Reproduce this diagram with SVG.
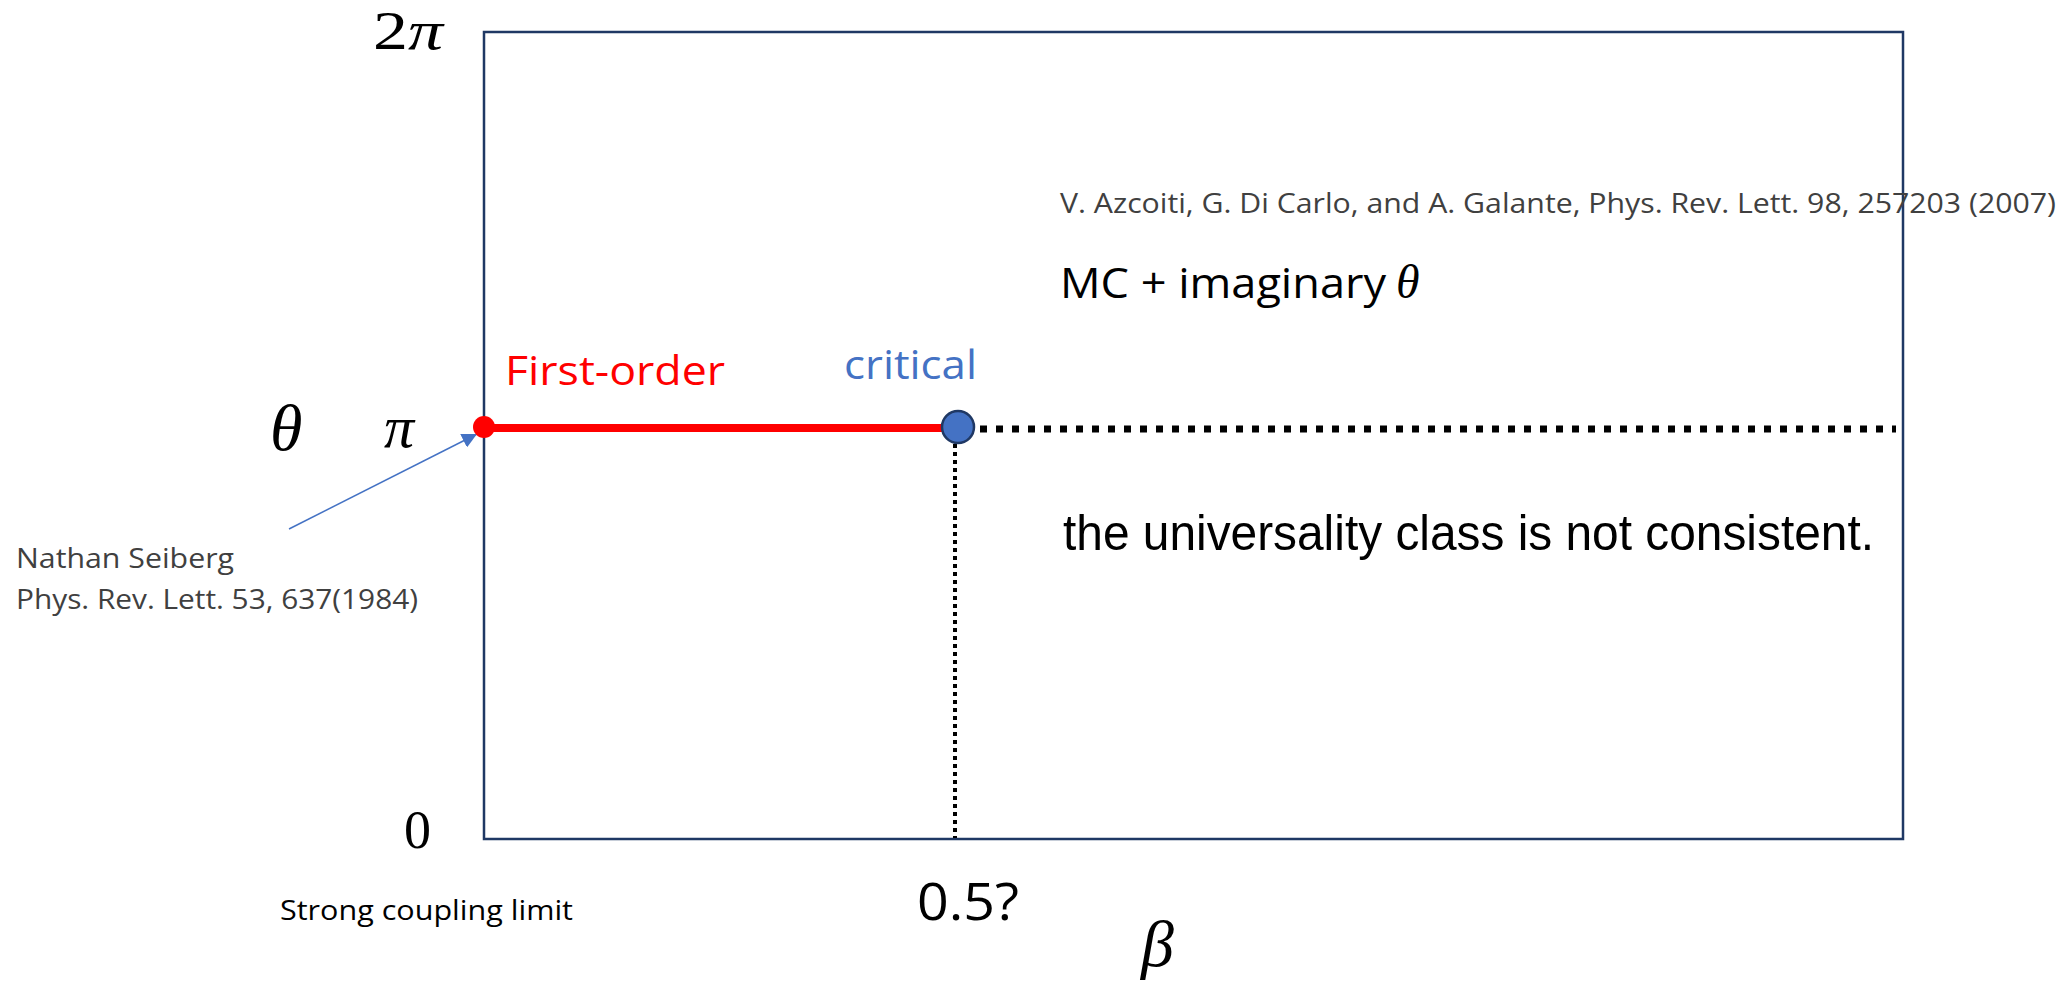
<svg xmlns="http://www.w3.org/2000/svg" width="2062" height="985" viewBox="0 0 2062 985">
<style>
.sans{font-family:"Open Sans","Noto Sans","Liberation Sans",sans-serif;}
.math{font-family:"Liberation Serif","DejaVu Serif",serif;font-style:italic;fill:#000;}
.mathup{font-family:"Liberation Serif","DejaVu Serif",serif;fill:#000;}
.cite{font-family:"Open Sans","Noto Sans","Liberation Sans",sans-serif;fill:#404040;}
</style>
<defs>
<marker id="ah" viewBox="0 0 10 10" refX="10" refY="5" markerWidth="10" markerHeight="10" markerUnits="strokeWidth" orient="auto">
<path d="M0,0 L10,5 L0,10 z" fill="#4472C4"/>
</marker>
</defs>
<rect width="2062" height="985" fill="#fff"/>
<g id="frame">
<rect x="484" y="32" width="1419" height="807" fill="none" stroke="#1F3864" stroke-width="2.5"/>
</g>
<g id="axis-labels">
<text class="mathup" x="373" y="49" font-size="54" textLength="70" lengthAdjust="spacingAndGlyphs">2<tspan class="math">π</tspan></text>
<text class="math" x="270" y="450" font-size="66">θ</text>
<text class="math" x="384" y="447" font-size="60">π</text>
<text class="mathup" x="404" y="848" font-size="54">0</text>
<text class="sans" x="917" y="920" font-size="52" textLength="102" lengthAdjust="spacingAndGlyphs">0.5?</text>
<text class="math" x="1141" y="966" font-size="66">β</text>
<text class="sans" x="280" y="920" font-size="28" textLength="293" lengthAdjust="spacingAndGlyphs">Strong coupling limit</text>
</g>
<g id="connectors">
<line x1="484" y1="428" x2="946" y2="428" stroke="#FF0000" stroke-width="8"/>
<line x1="980" y1="429" x2="1896" y2="429" stroke="#000" stroke-width="7" stroke-dasharray="7 9"/>
<line x1="955" y1="444" x2="955" y2="838" stroke="#000" stroke-width="4" stroke-dasharray="4 4"/>
<line x1="289" y1="529" x2="477" y2="434" stroke="#4472C4" stroke-width="1.5" marker-end="url(#ah)"/>
</g>
<g id="node-first-order">
<circle cx="484" cy="427" r="11" fill="#FF0000"/>
<text class="sans" x="505" y="385" font-size="40" fill="#FF0000" textLength="220" lengthAdjust="spacingAndGlyphs">First-order</text>
</g>
<g id="node-critical">
<circle cx="958" cy="427" r="16" fill="#4472C4" stroke="#1F3864" stroke-width="2.5"/>
<text class="sans" x="844" y="379" font-size="40" fill="#4472C4" textLength="133" lengthAdjust="spacingAndGlyphs">critical</text>
</g>
<g id="seiberg">
<text class="cite" x="16" y="568" font-size="28" textLength="218" lengthAdjust="spacingAndGlyphs">Nathan Seiberg</text>
<text class="cite" x="16" y="609" font-size="28" textLength="402" lengthAdjust="spacingAndGlyphs">Phys. Rev. Lett. 53, 637(1984)</text>
</g>
<g id="azcoiti">
<text class="cite" x="1060" y="213" font-size="28" textLength="996" lengthAdjust="spacingAndGlyphs">V. Azcoiti, G. Di Carlo, and A. Galante, Phys. Rev. Lett. 98, 257203 (2007)</text>
<text class="sans" x="1060" y="298" font-size="42" fill="#000"><tspan textLength="326" lengthAdjust="spacingAndGlyphs">MC + imaginary</tspan><tspan class="math" x="1396" font-size="48">θ</tspan></text>
</g>
<g id="universality">
<text x="1063" y="550" font-family="Liberation Sans, Arial, sans-serif" font-size="50" fill="#000" textLength="811" lengthAdjust="spacingAndGlyphs">the universality class is not consistent.</text>
</g>
</svg>
